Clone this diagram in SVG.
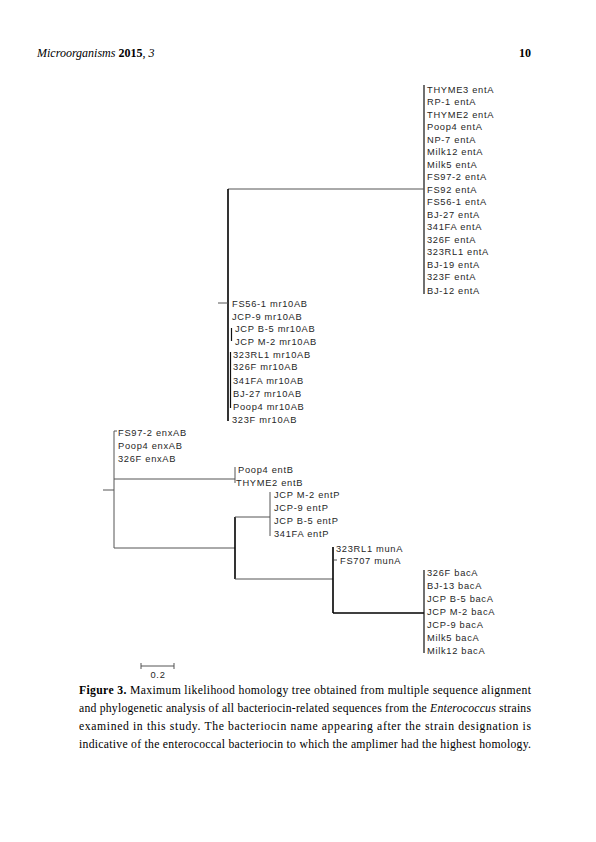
<svg xmlns="http://www.w3.org/2000/svg" width="596" height="842" viewBox="0 0 596 842">
<style>
.bg{fill:#fff}
.lb{font-family:"Liberation Sans",Arial,sans-serif;font-size:9.3px;fill:#262626;letter-spacing:0.7px}
.hd{font-family:"Liberation Serif","Times New Roman",serif;font-size:12px;fill:#000}
.cp{font-family:"Liberation Serif","Times New Roman",serif;font-size:11.7px;fill:#000}
.thin{stroke:#555;stroke-width:1;fill:none}
.thick{stroke:#000;stroke-width:1.6;fill:none}
.mid{stroke:#111;stroke-width:1.2;fill:none}
</style>
<rect class="bg" x="0" y="0" width="596" height="842"/>
<g id="header">
<text class="hd" x="37" y="57"><tspan font-style="italic">Microorganisms</tspan> <tspan font-weight="bold">2015</tspan>, <tspan font-style="italic">3</tspan></text>
<text class="hd" x="531" y="57" text-anchor="end" font-weight="bold">10</text>
</g>
<g id="connectors">
<line class="mid" x1="424" y1="85" x2="424" y2="294"/>
<line class="thin" x1="228" y1="189" x2="424" y2="189"/>
<line class="thick" x1="228" y1="189" x2="228" y2="421"/>
<line class="thin" x1="218" y1="303" x2="228" y2="303"/>
<line class="mid" x1="231.5" y1="328" x2="231.5" y2="341"/>
<line class="mid" x1="230.5" y1="352" x2="230.5" y2="408"/>
<line class="thin" x1="114" y1="431" x2="114" y2="548"/>
<line class="thin" x1="114" y1="431" x2="117" y2="431"/>
<line class="thin" x1="103" y1="490" x2="114" y2="490"/>
<line class="thin" x1="114" y1="479" x2="235" y2="479"/>
<line class="thin" x1="235" y1="467" x2="235" y2="483"/>
<line class="thin" x1="114" y1="548" x2="235" y2="548"/>
<line class="thick" x1="235" y1="517" x2="235" y2="579"/>
<line class="thin" x1="235" y1="517" x2="270" y2="517"/>
<line class="thin" x1="270" y1="492" x2="270" y2="536"/>
<line class="thin" x1="235" y1="579" x2="333" y2="579"/>
<line class="thick" x1="333" y1="547" x2="333" y2="613"/>
<line class="thin" x1="334" y1="560" x2="337" y2="560"/>
<line class="thick" x1="333" y1="613" x2="424" y2="613"/>
<line class="mid" x1="424" y1="570" x2="424" y2="653"/>
</g>
<g id="clade-entA" class="lb">
<g id="n-THYME3-entA"><text x="427" y="92.5">THYME3 entA</text></g>
<g id="n-RP-1-entA"><text x="427" y="105">RP-1 entA</text></g>
<g id="n-THYME2-entA"><text x="427" y="117.5">THYME2 entA</text></g>
<g id="n-Poop4-entA"><text x="427" y="130">Poop4 entA</text></g>
<g id="n-NP-7-entA"><text x="427" y="142.5">NP-7 entA</text></g>
<g id="n-Milk12-entA"><text x="427" y="155">Milk12 entA</text></g>
<g id="n-Milk5-entA"><text x="427" y="167.5">Milk5 entA</text></g>
<g id="n-FS97-2-entA"><text x="427" y="180">FS97-2 entA</text></g>
<g id="n-FS92-entA"><text x="427" y="192.5">FS92 entA</text></g>
<g id="n-FS56-1-entA"><text x="427" y="205">FS56-1 entA</text></g>
<g id="n-BJ-27-entA"><text x="427" y="217.5">BJ-27 entA</text></g>
<g id="n-341FA-entA"><text x="427" y="230">341FA entA</text></g>
<g id="n-326F-entA"><text x="427" y="242.5">326F entA</text></g>
<g id="n-323RL1-entA"><text x="427" y="255">323RL1 entA</text></g>
<g id="n-BJ-19-entA"><text x="427" y="267.5">BJ-19 entA</text></g>
<g id="n-323F-entA"><text x="427" y="280">323F entA</text></g>
<g id="n-BJ-12-entA"><text x="427" y="293.5">BJ-12 entA</text></g>
</g>
<g id="clade-mr10AB" class="lb">
<g id="n-FS56-1-mr10AB"><text x="232" y="306.5">FS56-1 mr10AB</text></g>
<g id="n-JCP-9-mr10AB"><text x="232" y="319.5">JCP-9 mr10AB</text></g>
<g id="n-JCPB-5-mr10AB"><text x="235" y="332">JCP B-5 mr10AB</text></g>
<g id="n-JCPM-2-mr10AB"><text x="235" y="344.5">JCP M-2 mr10AB</text></g>
<g id="n-323RL1-mr10AB"><text x="233" y="357.5">323RL1 mr10AB</text></g>
<g id="n-326F-mr10AB"><text x="233" y="370">326F mr10AB</text></g>
<g id="n-341FA-mr10AB"><text x="233" y="383.5">341FA mr10AB</text></g>
<g id="n-BJ-27-mr10AB"><text x="233" y="396.5">BJ-27 mr10AB</text></g>
<g id="n-Poop4-mr10AB"><text x="233" y="409.5">Poop4 mr10AB</text></g>
<g id="n-323F-mr10AB"><text x="232" y="422.5">323F mr10AB</text></g>
</g>
<g id="clade-enxAB" class="lb">
<g id="n-FS97-2-enxAB"><text x="118" y="435.5">FS97-2 enxAB</text></g>
<g id="n-Poop4-enxAB"><text x="118" y="448.5">Poop4 enxAB</text></g>
<g id="n-326F-enxAB"><text x="118" y="461.5">326F enxAB</text></g>
</g>
<g id="clade-entB" class="lb">
<g id="n-Poop4-entB"><text x="238" y="472.5">Poop4 entB</text></g>
<g id="n-THYME2-entB"><text x="236" y="485.5">THYME2 entB</text></g>
</g>
<g id="clade-entP" class="lb">
<g id="n-JCPM-2-entP"><text x="274" y="497.5">JCP M-2 entP</text></g>
<g id="n-JCP-9-entP"><text x="274" y="510.5">JCP-9 entP</text></g>
<g id="n-JCPB-5-entP"><text x="274" y="523.5">JCP B-5 entP</text></g>
<g id="n-341FA-entP"><text x="274" y="536.5">341FA entP</text></g>
</g>
<g id="clade-munA" class="lb">
<g id="n-323RL1-munA"><text x="336" y="551.5">323RL1 munA</text></g>
<g id="n-FS707-munA"><text x="340" y="563.5">FS707 munA</text></g>
</g>
<g id="clade-bacA" class="lb">
<g id="n-326F-bacA"><text x="427" y="575.5">326F bacA</text></g>
<g id="n-BJ-13-bacA"><text x="427" y="588.5">BJ-13 bacA</text></g>
<g id="n-JCPB-5-bacA"><text x="427" y="601.5">JCP B-5 bacA</text></g>
<g id="n-JCPM-2-bacA"><text x="427" y="614.5">JCP M-2 bacA</text></g>
<g id="n-JCP-9-bacA"><text x="427" y="627.5">JCP-9 bacA</text></g>
<g id="n-Milk5-bacA"><text x="427" y="640.5">Milk5 bacA</text></g>
<g id="n-Milk12-bacA"><text x="427" y="653.5">Milk12 bacA</text></g>
</g>
<g id="scale-bar">
<line class="thin" x1="141" y1="666" x2="174" y2="666" stroke="#222"/>
<line class="thin" x1="141" y1="663" x2="141" y2="669" stroke="#222"/>
<line class="thin" x1="174" y1="663" x2="174" y2="669" stroke="#222"/>
<text class="lb" x="158" y="678" text-anchor="middle" letter-spacing="0.3">0.2</text>
</g>
<g id="caption" class="cp">
<text x="79" y="694" textLength="452" lengthAdjust="spacing"><tspan font-weight="bold">Figure 3.</tspan> Maximum likelihood homology tree obtained from multiple sequence alignment</text>
<text x="79" y="712" textLength="452" lengthAdjust="spacing">and phylogenetic analysis of all bacteriocin-related sequences from the <tspan font-style="italic">Enterococcus</tspan> strains</text>
<text x="79" y="730" textLength="452" lengthAdjust="spacing">examined in this study. The bacteriocin name appearing after the strain designation is</text>
<text x="79" y="748" textLength="452" lengthAdjust="spacing">indicative of the enterococcal bacteriocin to which the amplimer had the highest homology.</text>
</g>
</svg>
